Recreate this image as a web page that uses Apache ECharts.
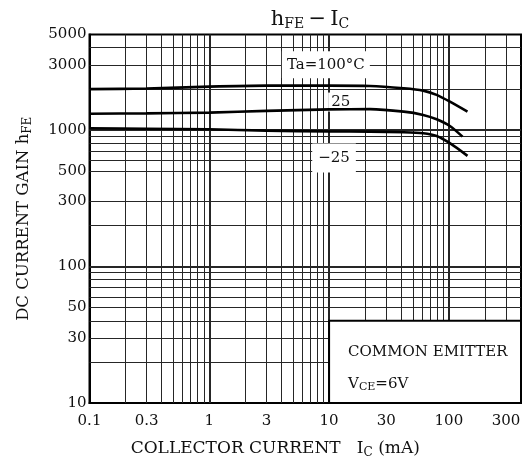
<!DOCTYPE html>
<html lang="en">
<head>
    <meta charset="UTF-8">
    <title>hFE - IC</title>
    <script src="https://cdn.jsdelivr.net/npm/echarts@6/dist/echarts.min.js"></script>
    <style>
        body { margin: 0; background: #fff; }
        #main { width: 527px; height: 464px; }
    </style>
</head>
<body>
<div id="main"></div>
<script type="text/javascript">
    // collector current (mA) and hFE for each ambient temperature
    var ic100 = [0.1, 0.3, 1, 3, 10, 22, 42, 61, 79, 102, 143];
    var hfe100 = [1990, 2010, 2075, 2110, 2110, 2100, 2020, 1940, 1805, 1610, 1360];
    var ic25 = [0.1, 0.3, 1, 3, 10, 22, 42, 61, 79, 102, 130];
    var hfe25 = [1315, 1322, 1340, 1378, 1415, 1420, 1361, 1288, 1197, 1069, 893];
    var icM25 = [0.1, 0.3, 1, 3, 10, 22, 42, 61, 79, 102, 143];
    var hfeM25 = [1028, 1020, 1011, 988, 975, 972, 962, 946, 904, 800, 646];

    // tick labels and grid lines
    var xTicks = [0.1, 0.3, 1, 3, 10, 30, 100, 300];
    var yTicks = [10, 30, 50, 100, 300, 500, 1000, 3000, 5000];
    var xMinor = [0.2, 0.3, 0.4, 0.5, 0.6, 0.7, 0.8, 0.9, 2, 3, 4, 5, 6, 7, 8, 9,
        20, 30, 40, 50, 60, 70, 80, 90, 200, 300];
    var xMajor = [1, 10, 100];
    var yMinor = [20, 30, 40, 50, 60, 70, 80, 90, 200, 300, 500, 600, 700, 800, 900,
        2000, 3000, 4000];
    var yMajor = [100, 1000];

    var FONT = 'DejaVu Serif';

    function pair(a, b) {
        return a.map(function (v, i) { return [v, b[i]]; });
    }

    function gridLines() {
        var out = [];
        xMinor.forEach(function (v) { out.push({xAxis: v, lineStyle: {width: 1}}); });
        xMajor.forEach(function (v) { out.push({xAxis: v, lineStyle: {width: 2}}); });
        yMinor.forEach(function (v) { out.push({yAxis: v, lineStyle: {width: 1}}); });
        yMajor.forEach(function (v) { out.push({yAxis: v, lineStyle: {width: 2}}); });
        return out;
    }

    function curve(name, data) {
        return {
            name: name, type: 'line', data: data, z: 3,
            smooth: 0.25, showSymbol: false, symbol: 'none',
            lineStyle: {color: '#000', width: 2.6}
        };
    }

    var sub = {fontFamily: FONT, fontSize: 12, color: '#111', padding: [8, 0, 0, 0]};
    var big = {fontFamily: FONT, fontSize: 17, color: '#111'};

    var myChart = echarts.init(document.getElementById('main'));
    myChart.setOption({
        animation: false,
        title: {
            text: '{a|h}{s|FE}{a|\u2009\u2212\u2009I}{s|C}',
            left: 305, top: 3, textAlign: 'center',
            textStyle: {
                fontWeight: 'normal',
                rich: {
                    a: {fontFamily: FONT, fontSize: 21, fontWeight: 'normal', color: '#111'},
                    s: {fontFamily: FONT, fontSize: 14, fontWeight: 'normal', color: '#111', padding: [9, 0, 0, 0]}
                }
            }
        },
        grid: {
            left: 89.5, right: 6, top: 34.5, bottom: 61,
            show: true, borderColor: '#000', borderWidth: 2, backgroundColor: '#fff'
        },
        xAxis: {
            type: 'log', logBase: 10, min: 0.1, max: 400,
            name: '{a|COLLECTOR CURRENT   I}{s|C}{a| (mA)}',
            nameLocation: 'middle', nameGap: 36,
            nameTextStyle: {padding: [0, 60, 0, 0], rich: {a: big, s: sub}},
            axisLine: {lineStyle: {color: '#000', width: 2}},
            axisTick: {show: false},
            splitLine: {show: false},
            axisLabel: {
                customValues: xTicks, margin: 11,
                fontFamily: FONT, fontSize: 15, color: '#111',
                formatter: function (v) { return String(+v.toPrecision(3)); }
            }
        },
        yAxis: {
            type: 'log', logBase: 10, min: 10, max: 5000,
            name: '{a|DC CURRENT GAIN h}{s|FE}',
            nameLocation: 'middle', nameGap: 56, nameRotate: 90,
            nameTextStyle: {rich: {a: {fontFamily: FONT, fontSize: 16.5, color: '#111'}, s: sub}},
            axisLine: {lineStyle: {color: '#000', width: 2}},
            axisTick: {show: false},
            splitLine: {show: false},
            axisLabel: {
                customValues: yTicks, margin: 3,
                fontFamily: FONT, fontSize: 15, color: '#111',
                formatter: function (v) { return String(Math.round(v)); }
            }
        },
        series: [
            {
                name: 'grid', type: 'line', data: [], z: 1, silent: true,
                markLine: {
                    silent: true, symbol: 'none', animation: false, z: 1,
                    label: {show: false},
                    lineStyle: {color: '#262626', type: 'solid', width: 1},
                    data: gridLines()
                }
            },
            curve('100', pair(ic100, hfe100)),
            curve('25', pair(ic25, hfe25)),
            curve('-25', pair(icM25, hfeM25)),
            {
                name: 'box', type: 'line', data: [], z: 4, silent: true,
                markArea: {
                    silent: true, z: 4,
                    itemStyle: {color: '#fff', opacity: 1, borderColor: '#000', borderWidth: 2},
                    label: {
                        show: true, position: 'insideTopLeft', distance: 0,
                        padding: [16, 0, 0, 20],
                        formatter: '{a|COMMON EMITTER}\n{a|V}{s|CE}{a|=6V}',
                        lineHeight: 32,
                        rich: {
                            a: {fontFamily: FONT, fontSize: 15, color: '#111', lineHeight: 32},
                            s: {fontFamily: FONT, fontSize: 11, color: '#111', lineHeight: 32, padding: [7, 0, 0, 0]}
                        }
                    },
                    data: [[{coord: [10, 10]}, {coord: [400, 40]}]]
                }
            },
            {
                name: 'labels', type: 'line', data: [], z: 2, silent: true,
                markPoint: {
                    silent: true, symbol: 'rect', symbolSize: 0, z: 2,
                    label: {
                        show: true, position: 'inside',
                        fontFamily: FONT, fontSize: 15, color: '#111',
                        backgroundColor: '#fff'
                    },
                    data: [
                        {coord: [9.4, 3000], value: 'Ta=100\u00b0C', label: {padding: [6, 5], formatter: 'Ta=100\u00b0C'}},
                        {coord: [12.5, 1600], value: '25', label: {padding: [2, 3], formatter: '25'}},
                        {coord: [11.0, 623], value: '-25', label: {padding: [7, 6], formatter: '\u221225'}}
                    ]
                }
            }
        ]
    });
</script>
</body>
</html>
